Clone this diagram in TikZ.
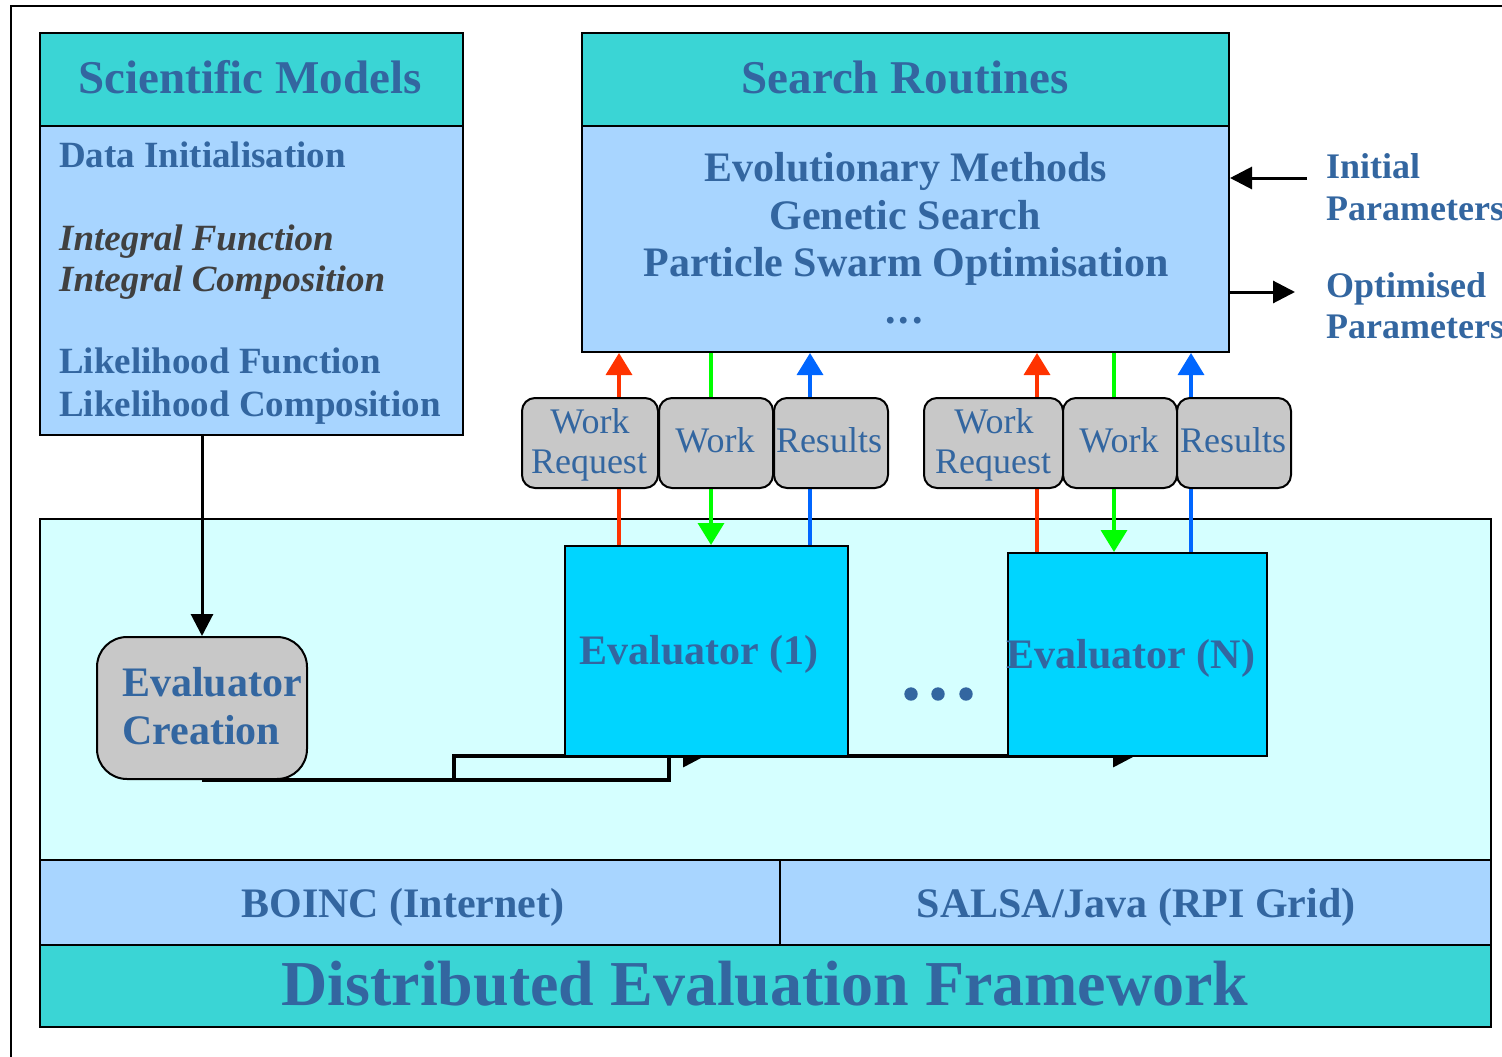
\documentclass[tikz,border=0pt]{standalone}
\usepackage{fontspec}
\setmainfont{Liberation Serif}
\usetikzlibrary{arrows.meta}

\definecolor{hdr}{RGB}{58,213,213}
\definecolor{bodyblue}{RGB}{168,213,255}
\definecolor{zone}{RGB}{213,255,255}
\definecolor{evalc}{RGB}{0,213,255}
\definecolor{pill}{RGB}{200,200,200}
\definecolor{ink}{RGB}{51,102,160}
\definecolor{darkink}{RGB}{64,64,64}
\definecolor{reqred}{RGB}{255,51,0}
\definecolor{workgreen}{RGB}{0,255,0}
\definecolor{resblue}{RGB}{0,102,255}

\newcommand\fsz[1]{\fontsize{#1}{#1}\selectfont}

\tikzset{
  panel/.style={draw=black, line width=2pt, inner sep=0pt, anchor=north west},
  pillbox/.style={panel, fill=pill, rounded corners=13pt},
  lbl/.style={text=ink, anchor=base, inner sep=0pt},
  lbll/.style={lbl, anchor=base west},
  blk/.style={draw=black, line width=3pt, -{Triangle[length=22pt,width=22pt]}},
  conn/.style={draw=black, line width=3.5pt, -{Triangle[length=22pt,width=22pt]}},
  flow/.style={line width=3.5pt, -{Triangle[length=22pt,width=26pt]}},
}

\begin{document}
\begin{tikzpicture}[x=1pt,y=-1pt]
\useasboundingbox (0,0) rectangle (1502,1057);

% page frame
\draw[line width=2.4pt] (11,1070) -- (11,6) -- (1510,6);

% ---------- Scientific Models ----------
\node[panel, fill=hdr, minimum width=423, minimum height=93] (smhead) at (39,32) {};
\node[panel, fill=bodyblue, minimum width=423, minimum height=309] (smbody) at (39,125) {};
\node[lbl, font={\fsz{47}\bfseries}] (smtitle) at (250,93) {Scientific Models};
\node[lbll, font={\fsz{37}\bfseries}] (di) at (59,167) {Data Initialisation};
\node[lbll, text=darkink, font={\fsz{37}\bfseries\itshape}] (ifn) at (59,250) {Integral Function};
\node[lbll, text=darkink, font={\fsz{37}\bfseries\itshape}] (icp) at (59,291) {Integral Composition};
\node[lbll, font={\fsz{37}\bfseries}] (lfn) at (59,373) {Likelihood Function};
\node[lbll, font={\fsz{37}\bfseries}] (lcp) at (59,416) {Likelihood Composition};

% ---------- Search Routines ----------
\node[panel, fill=hdr, minimum width=647, minimum height=93] (srhead) at (581,32) {};
\node[panel, fill=bodyblue, minimum width=647, minimum height=226] (srbody) at (581,125) {};
\node[lbl, font={\fsz{47}\bfseries}] (srtitle) at (905,93) {Search Routines};
\node[lbl, font={\fsz{42}\bfseries}] (em) at (906,181) {Evolutionary Methods};
\node[lbl, font={\fsz{42}\bfseries}] (gs) at (905,229) {Genetic Search};
\node[lbl, font={\fsz{42}\bfseries}] (pso) at (906,276) {Particle Swarm Optimisation};
\node[lbl, font={\fsz{42}\bfseries}] (more) at (904,323) {.\kern3pt.\kern3pt.};

% parameters in and out
\node[lbll, font={\fsz{36}\bfseries}] (ip1) at (1326,178) {Initial};
\node[lbll, font={\fsz{36}\bfseries}] (ip2) at (1326,220) {Parameters};
\node[lbll, font={\fsz{36}\bfseries}] (op1) at (1326,297) {Optimised};
\node[lbll, font={\fsz{36}\bfseries}] (op2) at (1326,338) {Parameters};
\coordinate (ipin) at (1307,178);
\coordinate (opout) at (1295,292);
\draw[blk] (ipin) -- (srbody.east |- ipin);
\draw[blk] (srbody.east |- opout) -- (opout);

% ---------- evaluation zone and platform rows ----------
\node[panel, fill=zone, line width=1.6pt, minimum width=1451, minimum height=341] (zonebox) at (39,518) {};
\node[panel, fill=bodyblue, line width=1.6pt, minimum width=740, minimum height=85] (boinc) at (39,859) {};
\node[panel, fill=bodyblue, line width=1.6pt, minimum width=711, minimum height=85] (salsa) at (779,859) {};
\node[panel, fill=hdr, minimum width=1451, minimum height=82] (defw) at (39,944) {};
\node[lbl, font={\fsz{42}\bfseries}] (boinct) at (403,917) {BOINC (Internet)};
\node[lbl, font={\fsz{42}\bfseries}] (salsat) at (1136,917) {SALSA/Java (RPI Grid)};
\node[lbl, font={\fsz{64}\bfseries}] (deft) at (765,1005) {Distributed Evaluation Framework};

% ---------- evaluator creation ----------
\node[panel, fill=pill, rounded corners=30pt, minimum width=210, minimum height=142] (ec) at (96,636) {};
\node[lbll, font={\fsz{42}\bfseries}] (ect1) at (122,696) {Evaluator};
\node[lbll, font={\fsz{42}\bfseries}] (ect2) at (122,744) {Creation};
\draw[blk] (ec.north |- smbody.south) -- (ec.north);

% creation links to the evaluators (partly covered by the evaluator boxes)
\coordinate (j1) at (454,0);
\coordinate (j2) at (669,0);
\coordinate (t1) at (705,756);
\coordinate (t2) at (1135,756);
\draw[conn] (ec.south) -- (ec.south -| j1) -- (j1 |- t1) -- (t1);
\draw[conn] (ec.south) -- (ec.south -| j2) -- (j2 |- t2) -- (t2);

% ---------- message flows ----------
\coordinate (r1) at (619,0);
\coordinate (g1) at (711,0);
\coordinate (b1) at (810,0);
\coordinate (r2) at (1037,0);
\coordinate (g2) at (1114,0);
\coordinate (b2) at (1191,0);
\coordinate (ev1top) at (0,545);
\coordinate (evNtop) at (0,552);

\draw[flow, draw=reqred] (r1 |- ev1top) -- (r1 |- srbody.south);
\draw[flow, draw=workgreen] (g1 |- srbody.south) -- (g1 |- ev1top);
\draw[flow, draw=resblue] (b1 |- ev1top) -- (b1 |- srbody.south);
\draw[flow, draw=reqred] (r2 |- evNtop) -- (r2 |- srbody.south);
\draw[flow, draw=workgreen] (g2 |- srbody.south) -- (g2 |- evNtop);
\draw[flow, draw=resblue] (b2 |- evNtop) -- (b2 |- srbody.south);

% message boxes
\node[pillbox, minimum width=136, minimum height=90] (wr1) at (521,397) {};
\node[pillbox, minimum width=114, minimum height=90] (wk1) at (658,397) {};
\node[pillbox, minimum width=114, minimum height=90] (rs1) at (773,397) {};
\node[pillbox, minimum width=139, minimum height=90] (wr2) at (923,397) {};
\node[pillbox, minimum width=114, minimum height=90] (wk2) at (1062,397) {};
\node[pillbox, minimum width=114, minimum height=90] (rs2) at (1176,397) {};

\node[lbl, font=\fsz{36}] (wr1a) at (590,433) {Work};
\node[lbl, font=\fsz{36}] (wr1b) at (589,473) {Request};
\node[lbl, font=\fsz{36}] (wk1t) at (715,452) {Work};
\node[lbl, font=\fsz{36}] (rs1t) at (829,452) {Results};
\node[lbl, font=\fsz{36}] (wr2a) at (994,433) {Work};
\node[lbl, font=\fsz{36}] (wr2b) at (993,473) {Request};
\node[lbl, font=\fsz{36}] (wk2t) at (1119,452) {Work};
\node[lbl, font=\fsz{36}] (rs2t) at (1233,452) {Results};

% ---------- evaluators ----------
\node[panel, fill=evalc, minimum width=283, minimum height=210] (ev1) at (564,545) {};
\node[panel, fill=evalc, minimum width=259, minimum height=203] (evN) at (1007,552) {};
\node[lbl, font={\fsz{42}\bfseries}] (ev1t) at (699,664) {Evaluator (1)};
\node[lbl, font={\fsz{42}\bfseries}] (evNt) at (1131,668) {Evaluator (N)};

\foreach \dx [count=\i] in {911,938,966}
  \fill[ink] (\dx,694) circle[radius=6.7] coordinate (dot\i);
\end{tikzpicture}
\end{document}
